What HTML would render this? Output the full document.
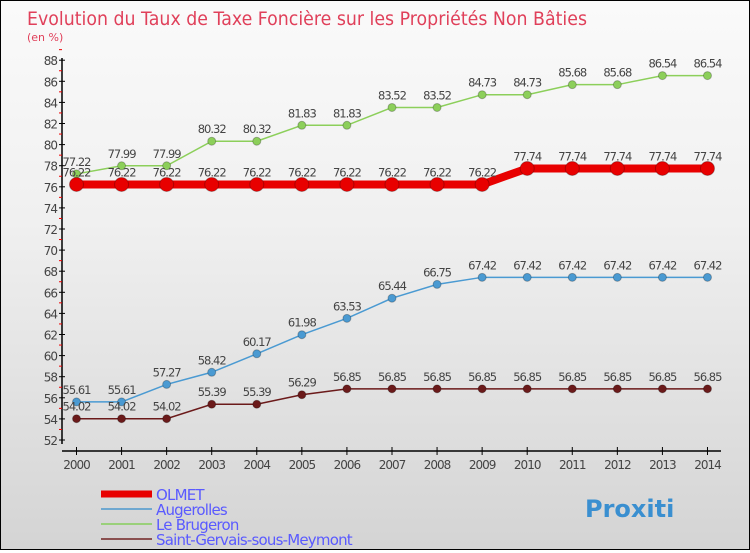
<!DOCTYPE html>
<html><head><meta charset="utf-8"><style>
body{margin:0}
#c{width:748px;height:548px;border:1px solid #000;background:linear-gradient(#fafafa,#f0f0f0 40%,#d4d4d4);position:relative;font-family:"DejaVu Sans","Liberation Sans",sans-serif}
text{font-family:"DejaVu Sans","Liberation Sans",sans-serif}
</style></head><body>
<div id="c">
<svg id="s" width="748" height="548">
<text x="26" y="24" font-size="19" fill="#e0405a" textLength="560" lengthAdjust="spacingAndGlyphs">Evolution du Taux de Taxe Foncière sur les Propriétés Non Bâties</text>
<text x="26" y="40" font-size="11" fill="#e0405a">(en %)</text>
<g id="g"></g>
</svg>
</div>
<script>
const years=[2000,2001,2002,2003,2004,2005,2006,2007,2008,2009,2010,2011,2012,2013,2014];
const olmet=[76.22,76.22,76.22,76.22,76.22,76.22,76.22,76.22,76.22,76.22,77.74,77.74,77.74,77.74,77.74];
const augerolles=[55.61,55.61,57.27,58.42,60.17,61.98,63.53,65.44,66.75,67.42,67.42,67.42,67.42,67.42,67.42];
const brugeron=[77.22,77.99,77.99,80.32,80.32,81.83,81.83,83.52,83.52,84.73,84.73,85.68,85.68,86.54,86.54];
const stgervais=[54.02,54.02,54.02,55.39,55.39,56.29,56.85,56.85,56.85,56.85,56.85,56.85,56.85,56.85,56.85];
const yTicks=[52,54,56,58,60,62,64,66,68,70,72,74,76,78,80,82,84,86,88];
const X=i=>75.5+i*45.07, Y=v=>439-(v-52)*10.55;
const g=document.getElementById('g'),NS='http://www.w3.org/2000/svg';
function el(t,a,txt){const e=document.createElementNS(NS,t);for(const k in a)e.setAttribute(k,a[k]);if(txt!=null)e.textContent=txt;g.appendChild(e);return e;}
let e=el('line',{x1:61,y1:57,x2:61,y2:443,stroke:'#000','stroke-width':1.5});

e=el('line',{x1:61,y1:450,x2:720,y2:450,stroke:'#000','stroke-width':1.5});

yTicks.forEach(v=>{
 el('line',{x1:58,y1:Y(v),x2:64,y2:Y(v),stroke:'#000'});
 el('line',{x1:58,y1:Y(v+1),x2:61,y2:Y(v+1),stroke:'#e00'});
 e=el('text',{x:56,y:Y(v)+5,'font-size':12,fill:'#444','text-anchor':'end','letter-spacing':'-1'},v);
 
});
years.forEach((y,i)=>{
 el('line',{x1:X(i),y1:446,x2:X(i),y2:454,stroke:'#000'});
 e=el('text',{x:X(i),y:468,'font-size':12,fill:'#444','text-anchor':'middle','letter-spacing':'-1'},y);
 
});
function series(d,color,w,r,name){
 e=el('polyline',{points:d.map((v,i)=>X(i)+','+Y(v)).join(' '),fill:'none',stroke:color,'stroke-width':w});
 
 d.forEach((v,i)=>{
  e=el('circle',{cx:X(i),cy:Y(v),r:r,fill:color,stroke:'rgba(0,0,0,0.25)'});
  
  e=el('text',{x:X(i),y:Y(v)-8,'font-size':11.5,fill:'#444','text-anchor':'middle','letter-spacing':'-1'},v.toFixed(2));
  
 });
}
series(brugeron,'#8ccf5a',1.5,4,'le-brugeron');
series(augerolles,'#4a9ad2',1.5,4,'augerolles');
series(stgervais,'#6b1a1a',1.5,4,'saint-gervais');
series(olmet,'#e80000',8,7,'olmet');
const legend=[['OLMET','#e80000',7],['Augerolles','#6fa8d0',2],['Le Brugeron','#9ad07a',2],['Saint-Gervais-sous-Meymont','#8a5050',2]];
legend.forEach((l,i)=>{
 const y=493+i*15;
 e=el('line',{x1:100,y1:y,x2:151,y2:y,stroke:l[1],'stroke-width':l[2]});
 
 e=el('text',{x:155,y:y+6,'font-size':15,fill:'#5a5aff','letter-spacing':'-0.8'},l[0]);
 
});
e=el('text',{x:584,y:516,'font-size':24,'font-weight':'bold',fill:'#3a8fd0'},'Proxiti');

</script>
</body></html>
